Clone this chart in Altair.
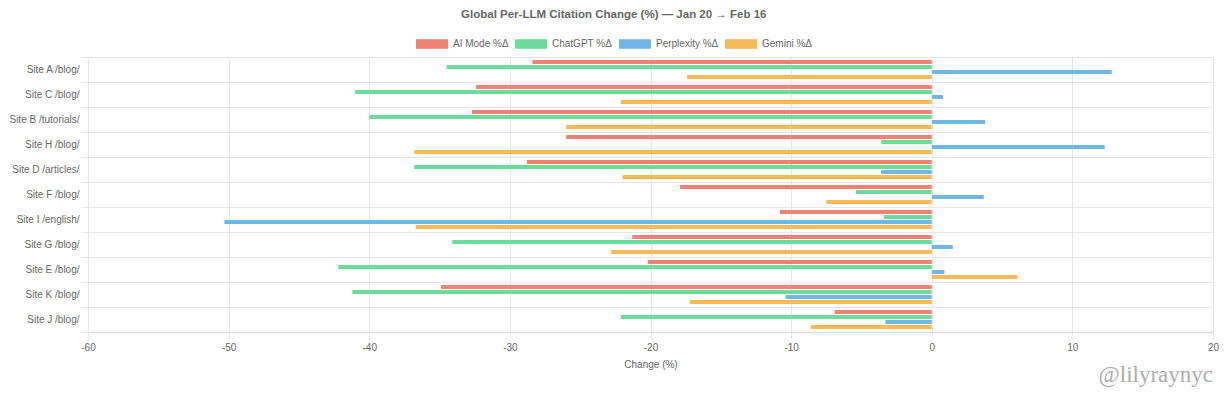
import altair as alt
import pandas as pd

sites = ["Site A /blog/", "Site C /blog/", "Site B /tutorials/", "Site H /blog/",
         "Site D /articles/", "Site F /blog/", "Site I /english/", "Site G /blog/",
         "Site E /blog/", "Site K /blog/", "Site J /blog/"]
ai_mode = [-28.4, -32.4, -32.7, -26.0, -28.8, -17.9, -10.8, -21.3, -20.2, -34.9, -6.9]
chatgpt = [-34.5, -41.0, -40.0, -3.6, -36.8, -5.4, -3.4, -34.1, -42.2, -41.2, -22.1]
perplexity = [12.8, 0.8, 3.8, 12.3, -3.6, 3.7, -50.3, 1.5, 0.9, -10.4, -3.3]
gemini = [-17.4, -22.1, -26.0, -36.8, -22.0, -7.5, -36.7, -22.8, 6.1, -17.2, -8.6]
series = ["AI Mode %Δ", "ChatGPT %Δ", "Perplexity %Δ", "Gemini %Δ"]
colors = ["#EE8276", "#6DDB9C", "#71B7E6", "#F7BA59"]
x_ticks = [-60, -50, -40, -30, -20, -10, 0, 10, 20]

rows = []
for name, vals in zip(series, [ai_mode, chatgpt, perplexity, gemini]):
    for s, v in zip(sites, vals):
        rows.append({"site": s, "series": name, "value": v})
df = pd.DataFrame(rows)

FONT = "Liberation Sans"
GRID = "#e6e6e6"

bars = alt.Chart(df).mark_bar().encode(
    x=alt.X("value:Q",
            scale=alt.Scale(domain=[-60, 20], nice=False, zero=False),
            axis=alt.Axis(values=x_ticks, labelExpr="'' + datum.value", labelFlush=False,
                          title="Change (%)", grid=True, gridColor=GRID,
                          tickColor=GRID, domainColor="#dddddd", domainWidth=1.5,
                          tickSize=7, labelPadding=3, labelFontSize=10, labelColor="#666",
                          labelFont=FONT, titleFont=FONT, titleFontSize=10,
                          titleFontWeight="normal", titleColor="#666", titlePadding=7)),
    y=alt.Y("site:N", sort=sites,
            scale=alt.Scale(paddingInner=0, paddingOuter=0),
            axis=alt.Axis(title=None, grid=True, gridColor=GRID, tickColor=GRID,
                          tickBand="extent", domainColor=GRID, tickSize=7,
                          labelPadding=2, labelFontSize=10, labelColor="#666",
                          labelFont=FONT)),
    yOffset=alt.YOffset("series:N", sort=series,
                        scale=alt.Scale(paddingInner=0.2, paddingOuter=0.6)),
    color=alt.Color("series:N", sort=series,
                    scale=alt.Scale(domain=series, range=colors),
                    legend=alt.Legend(title=None, orient="none", direction="horizontal",
                                      legendX=328, legendY=-29,
                                      symbolType="M-1,-0.3H1V0.3H-1Z", symbolSize=1024,
                                      symbolStrokeWidth=0, symbolOpacity=1,
                                      labelFont=FONT, labelFontSize=10, labelColor="#666",
                                      columnPadding=6, labelOffset=5)),
)

wm = alt.Chart(pd.DataFrame({"t": ["@lilyraynyc"]})).mark_text(
    align="right", baseline="alphabetic", font="Liberation Serif", fontSize=23,
    color="#adadad"
).encode(text="t:N", x=alt.value(1125), y=alt.value(325))

chart = alt.layer(bars, wm).properties(
    width=1125, height=275,
    title=alt.TitleParams("Global Per-LLM Citation Change (%) — Jan 20 → Feb 16",
                          font=FONT, fontSize=11.5, fontWeight="bold", color="#666",
                          anchor="middle", frame="bounds", offset=8),
    autosize=alt.AutoSizeParams(type="none"),
    padding={"left": 80, "top": 49, "right": 11, "bottom": 57},
).configure_view(stroke=None)

chart.save("out.html", embed_options={"renderer": "svg", "actions": False})
